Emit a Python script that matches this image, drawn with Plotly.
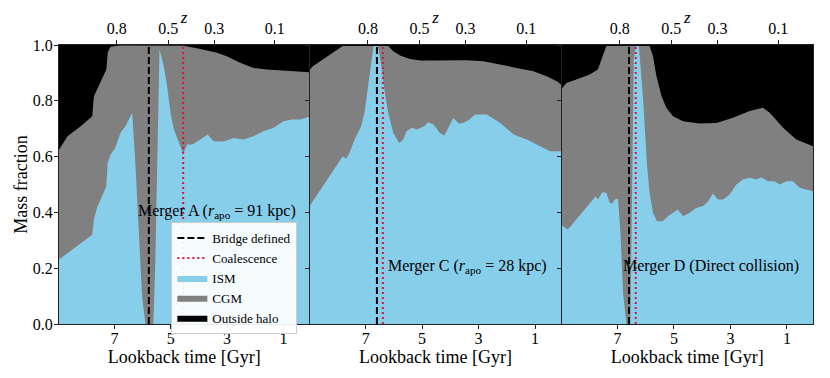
import plotly.graph_objects as go

# lookback time [Gyr] and mass fractions
# ISM = top of the blue band, gas = top of the grey band (ISM + CGM)
tA_ism = [8.97, 7.79, 7.73, 7.61, 7.44, 7.29, 7.24, 7.14, 6.97, 6.79, 6.61, 6.37, 6.26, 6.14, 6.02, 5.9,
          5.62, 5.55, 5.49, 5.40, 5.25, 5.13, 5.01, 4.89, 4.71, 4.56, 4.42, 4.24, 3.95, 3.69, 3.48, 3.12,
          2.77, 2.42, 2.06, 1.71, 1.35, 1.0, 0.7, 0.4, 0.08]
ism_A = [0.231, 0.32, 0.375, 0.42, 0.458, 0.494, 0.578, 0.607, 0.632, 0.685, 0.709, 0.757, 0.578, 0.338, 0.1, 0.0,
         0.0, 0.22, 0.58, 0.985, 0.924, 0.852, 0.757, 0.697, 0.65, 0.611, 0.643, 0.643, 0.661, 0.679, 0.655, 0.654,
         0.667, 0.661, 0.673, 0.691, 0.703, 0.727, 0.733, 0.733, 0.743]
tA_gas = [8.97, 8.67, 8.2, 7.79, 7.73, 7.55, 7.37, 7.29, 7.24, 7.14, 6.79, 4.54, 3.95, 3.36, 3.01, 2.54,
          2.06, 1.59, 1.0, 0.08]
gas_A = [0.625, 0.673, 0.709, 0.745, 0.816, 0.852, 0.894, 0.912, 0.972, 0.994, 0.998, 0.997, 0.986, 0.972, 0.96, 0.936,
         0.918, 0.912, 0.909, 0.902]

tC_ism = [8.99, 7.81, 7.69, 7.57, 7.39, 7.16, 7.04, 6.86, 6.72, 6.56, 6.44, 6.32, 6.2, 6.02, 5.81, 5.67,
          5.55, 5.37, 5.19, 4.93, 4.78, 4.6, 4.37, 4.21, 4.07, 3.89, 3.71, 3.54, 3.36, 3.12, 2.71, 2.24,
          1.76, 1.29, 0.82, 0.47, 0.08]
ism_C = [0.422, 0.601, 0.592, 0.614, 0.661, 0.709, 0.757, 0.9, 0.996, 0.996, 0.924, 0.829, 0.757, 0.685, 0.649, 0.661,
         0.691, 0.703, 0.697, 0.709, 0.723, 0.715, 0.685, 0.676, 0.703, 0.739, 0.719, 0.72, 0.73, 0.751, 0.751, 0.721,
         0.679, 0.661, 0.637, 0.619, 0.619]
tC_gas = [8.99, 8.87, 7.81, 6.2, 6.02, 5.78, 5.43, 5.07, 4.6, 4.01, 3.42, 2.83, 2.24, 1.65, 1.06, 0.59, 0.23, 0.08]
gas_C = [0.91, 0.924, 0.996, 0.996, 0.978, 0.962, 0.95, 0.944, 0.944, 0.945, 0.945, 0.942, 0.93, 0.918, 0.906, 0.888,
         0.87, 0.858]

tD_ism = [8.97, 8.75, 7.86, 7.77, 7.69, 7.53, 7.39, 7.27, 7.18, 7.1, 6.98, 6.89, 6.8, 6.68, 6.54, 6.48,
          6.42, 6.35, 6.24, 6.09, 5.95, 5.86, 5.74, 5.6, 5.39, 5.21, 5.03, 4.86, 4.68, 4.44, 4.21, 3.97,
          3.79, 3.62, 3.44, 3.26, 3.03, 2.79, 2.56, 2.32, 2.08, 1.91, 1.67, 1.44, 1.26, 1.02, 0.79, 0.55, 0.08]
ism_D = [0.353, 0.339, 0.446, 0.458, 0.446, 0.472, 0.47, 0.434, 0.432, 0.446, 0.449, 0.327, 0.112, 0.0, 0.0, 0.6,
         0.95, 0.996, 0.996, 0.805, 0.566, 0.47, 0.399, 0.368, 0.368, 0.386, 0.399, 0.41, 0.386, 0.399, 0.416, 0.423,
         0.44, 0.468, 0.446, 0.446, 0.464, 0.5, 0.518, 0.524, 0.518, 0.526, 0.512, 0.512, 0.5, 0.512, 0.512, 0.488, 0.476]
tD_gas = [8.97, 8.81, 8.45, 7.98, 7.69, 7.57, 7.39, 5.86, 5.74, 5.62, 5.44, 5.27, 5.03, 4.68, 4.09, 3.5,
          2.91, 2.32, 1.85, 1.61, 1.14, 0.67, 0.08]
gas_D = [0.843, 0.864, 0.876, 0.894, 0.912, 0.948, 0.996, 0.996, 0.96, 0.889, 0.817, 0.775, 0.745, 0.727, 0.719, 0.72,
         0.739, 0.763, 0.775, 0.757, 0.703, 0.661, 0.637]

bridge_t = [5.78, 6.6, 6.59]
coal_t = [4.56, 6.39, 6.35]
labels = ["Merger A (<i>r</i><sub>apo</sub> = 91 kpc)",
          "Merger C (<i>r</i><sub>apo</sub> = 28 kpc)",
          "Merger D (Direct collision)"]
label_y = [0.405, 0.207, 0.207]

z_tickvals = [6.92, 5.09, 3.46, 1.31]
z_ticktext = ["0.8", "0.5", "0.3", "0.1"]
t_ticks = [7, 5, 3, 1]
t_range = [8.97, 0.08]

ISM_C = "#87CEEB"
CGM_C = "#808080"
OUT_C = "#000000"
FONT = "Liberation Serif"

panels = [(tA_ism, ism_A, tA_gas, gas_A), (tC_ism, ism_C, tC_gas, gas_C), (tD_ism, ism_D, tD_gas, gas_D)]
domains = [[0.0, 0.332], [0.3329, 0.6658], [0.6667, 1.0]]

fig = go.Figure()
layout = {}
for i, (t_i, ism, t_g, gas) in enumerate(panels):
    xb = "x" if i == 0 else "x%d" % (2 * i + 1)
    xt = "x%d" % (2 * i + 2)
    yy = "y" if i == 0 else "y%d" % (i + 1)
    leg = i == 0
    fig.add_trace(go.Scatter(x=[t_g[0], t_g[-1]], y=[1, 1], fill="tozeroy", mode="lines", line=dict(width=0),
                             fillcolor=OUT_C, name="Outside halo", showlegend=leg, legendrank=5,
                             xaxis=xb, yaxis=yy, hoverinfo="skip"))
    fig.add_trace(go.Scatter(x=t_g, y=gas, fill="tozeroy", mode="lines", line=dict(width=0),
                             fillcolor=CGM_C, name="CGM", showlegend=leg, legendrank=4,
                             xaxis=xb, yaxis=yy))
    fig.add_trace(go.Scatter(x=t_i, y=ism, fill="tozeroy", mode="lines", line=dict(width=0),
                             fillcolor=ISM_C, name="ISM", showlegend=leg, legendrank=3,
                             xaxis=xb, yaxis=yy))
    # vertical markers live on the top (redshift) axis, which shares the time range
    fig.add_trace(go.Scatter(x=[bridge_t[i]] * 2, y=[0, 1], mode="lines",
                             line=dict(color="black", width=2, dash="7px,3px"),
                             name="Bridge defined", showlegend=leg, legendrank=1, xaxis=xt, yaxis=yy))
    fig.add_trace(go.Scatter(x=[coal_t[i]] * 2, y=[0, 1], mode="lines",
                             line=dict(color="#DC143C", width=2, dash="2px,3px"),
                             name="Coalescence", showlegend=leg, legendrank=2, xaxis=xt, yaxis=yy))
    fig.add_annotation(x=0.5, y=label_y[i], xref=xb, yref=yy, text=labels[i], showarrow=False,
                       xanchor="right", yanchor="middle", font=dict(family=FONT, size=16, color="black"))

    axcommon = dict(showgrid=False, zeroline=False, showline=True, linecolor="#222", linewidth=1,
                    automargin=False, ticks="outside", ticklen=4, tickcolor="#222",
                    tickfont=dict(family=FONT, size=16, color="black"))
    layout["xaxis" if i == 0 else "xaxis%d" % (2 * i + 1)] = dict(
        domain=domains[i], anchor=yy, range=t_range, tickvals=t_ticks, ticklabelstandoff=-4,
        title=dict(text="Lookback time [Gyr]", font=dict(family=FONT, size=18, color="black"), standoff=0),
        **axcommon)
    layout["xaxis%d" % (2 * i + 2)] = dict(
        overlaying=xb, side="top", anchor=yy, range=t_range, tickvals=z_tickvals, ticktext=z_ticktext,
        title=dict(text="<i>z</i>", font=dict(family=FONT, size=17, color="black"), standoff=4),
        **axcommon)
    ykw = dict(domain=[0, 1], anchor=xb, range=[0, 1], tickvals=[0, 0.2, 0.4, 0.6, 0.8, 1.0],
               tickformat=".1f", mirror=True, showticklabels=(i == 0), ticklabelstandoff=-2, **axcommon)
    if i == 0:
        ykw["title"] = dict(text="Mass fraction", font=dict(family=FONT, size=18, color="black"), standoff=0)
    layout["yaxis" if i == 0 else "yaxis%d" % (i + 1)] = ykw

# the page body adds an 8px offset, so the margins are shifted to compensate
fig.update_layout(
    width=830, height=378,
    margin=dict(l=51, r=25, t=37, b=62),
    paper_bgcolor="white", plot_bgcolor="black",
    font=dict(family=FONT, size=14, color="black"),
    legend=dict(x=0.149, y=0.365, xanchor="left", yanchor="top", traceorder="normal",
                bgcolor="rgba(255,255,255,0.92)", bordercolor="#cccccc", borderwidth=1,
                font=dict(family=FONT, size=13, color="black"), itemwidth=30, tracegroupgap=0),
    **layout,
)

fig.write_html("out.html")
